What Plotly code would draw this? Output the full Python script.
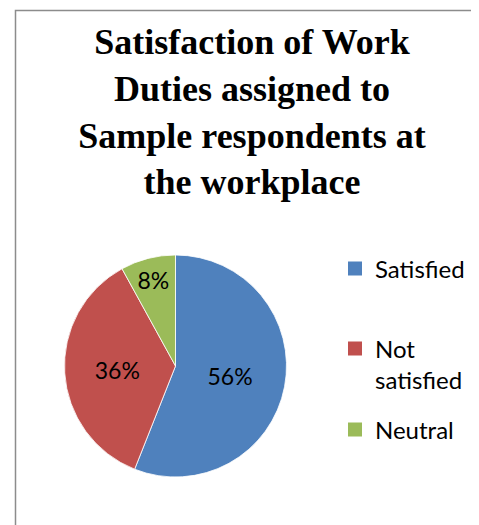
import plotly.graph_objects as go

labels = ["Satisfied", "Not satisfied", "Neutral"]
legend_labels = ["Satisfied", "Not<br>satisfied", "Neutral"]
values = [56, 36, 8]
colors = ["#4F81BD", "#C0504D", "#9BBB59"]
title_text = "Satisfaction of Work<br>Duties assigned to<br>Sample respondents at<br>the workplace"

OFF = 8  # page body margin
W, H = 479 - OFF, 525 - OFF
cx, cy, r = 175.5 - OFF, 366 - OFF, 111

fig = go.Figure()
fig.add_trace(go.Pie(
    labels=labels, values=values, sort=False, direction="clockwise", rotation=0,
    marker=dict(colors=colors, line=dict(color="white", width=0.8)),
    texttemplate="%{percent:.0%}", textposition="inside",
    insidetextorientation="horizontal",
    textfont=dict(family="Lato", size=23, color="black"),
    showlegend=False, hoverinfo="label+percent",
    domain=dict(x=[(cx - r) / W, (cx + r) / W], y=[1 - (cy + r) / H, 1 - (cy - r) / H]),
))

legend_names = ["legend", "legend2", "legend3"]
legend_tops = [246.5 - OFF, 326.5 - OFF, 407.5 - OFF]
for lab, col, lg in zip(legend_labels, colors, legend_names):
    fig.add_trace(go.Scatter(
        x=[None], y=[None], mode="markers", name=lab,
        marker=dict(symbol="square", size=14, color=col),
        legend=lg, showlegend=True, hoverinfo="skip",
    ))

layout_legends = {}
for lg, top in zip(legend_names, legend_tops):
    layout_legends[lg] = dict(
        x=(335 - OFF) / W, xanchor="left", y=1 - top / H, yanchor="top",
        font=dict(family="Lato", size=24, color="black"),
        bgcolor="rgba(0,0,0,0)", borderwidth=0, itemsizing="trace", valign="top",
    )

fig.update_layout(
    width=W, height=H,
    margin=dict(l=0, r=0, t=0, b=0),
    paper_bgcolor="white", plot_bgcolor="white",
    title=dict(text=title_text, x=(252 - OFF) / W, xanchor="center", xref="paper",
               y=1 - (54 - OFF) / H, yanchor="top", yref="container",
               font=dict(family="Liberation Serif, Times New Roman, serif",
                         size=36, color="black", weight="bold")),
    xaxis=dict(visible=False), yaxis=dict(visible=False),
    shapes=[dict(type="rect", xref="paper", yref="paper",
                 x0=(15.5 - OFF) / W, x1=1.05, y0=-0.05, y1=1 - (10.5 - OFF) / H,
                 line=dict(color="#8c8c8c", width=1.5), fillcolor="rgba(0,0,0,0)")],
    **layout_legends,
)

fig.write_html("out.html")
